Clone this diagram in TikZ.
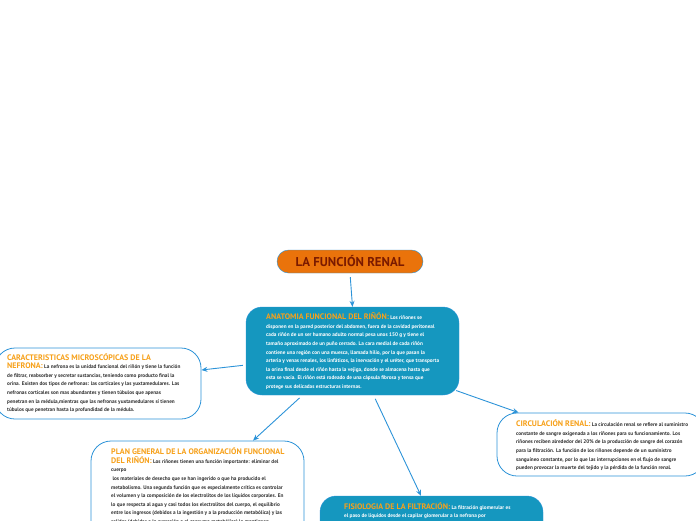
\documentclass[tikz,border=0pt]{standalone}
\usepackage{fontspec}
\setmainfont{PT Sans}
\usetikzlibrary{arrows.meta, positioning, calc}
\definecolor{mapblue}{HTML}{1597BF}
\definecolor{linkblue}{HTML}{2C93D8}
\definecolor{titleorange}{HTML}{EA730B}
\definecolor{titlered}{HTML}{7A1A00}
\definecolor{headorange}{HTML}{F7A11A}
\definecolor{bodygray}{HTML}{333333}
\newcommand{\hd}[1]{{\fontsize{8}{8.6}\selectfont\color{headorange}#1}}

\begin{document}
\begin{tikzpicture}[
  x=1pt, y=-1pt,
  titlebox/.style={draw=linkblue, fill=titleorange, rounded corners=11.5pt, minimum width=146pt, minimum height=23pt, inner sep=0pt, text=titlered, font=\fontsize{12.8}{14}\selectfont\bfseries},
  topic/.style={draw=linkblue, fill=mapblue, rounded corners=16pt, inner sep=0pt},
  subtopic/.style={draw=linkblue, fill=white, line width=0.8pt, rounded corners=20pt, inner sep=0pt},
  txt/.style={anchor=north west, inner sep=0pt, align=left, font=\fontsize{5.25}{8.6}\selectfont\bfseries},
  link/.style={draw=linkblue, line width=0.9pt, -{Stealth[length=6pt, width=5pt]}},
]
  \useasboundingbox (0,0) rectangle (696,520);

  % Boxes
  \node[titlebox] (title) at (350,261.5) {LA FUNCIÓN RENAL};
  \node[topic, minimum width=213pt, minimum height=88pt] (anatomia) at (352.5,351) {};
  \node[subtopic, minimum width=206pt, minimum height=71pt] (micro) at (98,383.5) {};
  \node[subtopic, minimum width=213pt, minimum height=120pt] (plan) at (197.5,501) {};
  \node[subtopic, minimum width=208pt, minimum height=63pt] (circ) at (601,444.5) {};
  \node[topic, minimum width=223pt, minimum height=60pt] (filtra) at (431.5,526) {};

  % Texts
  \node[txt, text=white] (anatomia-txt) at (266,312.5) {\hd{ANATOMIA FUNCIONAL DEL RIÑÓN:} Los riñones se\\
    disponen en la pared posterior del abdomen, fuera de la cavidad peritoneal\\
    cada riñón de un ser humano adulto normal pesa unos 150 g y tiene el\\
    tamaño aproximado de un puño cerrado. La cara medial de cada riñón\\
    contiene una región con una muesca, llamada hilio, por la que pasan la\\
    arteria y venas renales, los linfáticos, la inervación y el uréter, que transporta\\
    la orina final desde el riñón hasta la vejiga, donde se almacena hasta que\\
    esta se vacía. El riñón está rodeado de una cápsula fibrosa y tensa que\\
    protege sus delicadas estructuras internas.};
  \node[txt, text=bodygray] (micro-txt) at (7,353) {\hd{CARACTERISTICAS MICROSCÓPICAS DE LA}\\
    \hd{NEFRONA:} La nefrona es la unidad funcional del riñón y tiene la función\\
    de filtrar, reabsorber y secretar sustancias, teniendo como producto final la\\
    orina. Existen dos tipos de nefronas: las corticales y las yuxtamedulares. Las\\
    nefronas corticales son mas abundantes y tienen túbulos que apenas\\
    penetran en la médula,mientras que las nefronas yuxtamedulares sí tienen\\
    túbulos que penetran hasta la profundidad de la médula.};
  \node[txt, text=bodygray] (plan-txt) at (111,447.5) {\hd{PLAN GENERAL DE LA ORGANIZACIÓN FUNCIONAL}\\
    \hd{DEL RIÑÓN:} Los riñones tienen una función importante: eliminar del\\
    cuerpo\\
    \ los materiales de desecho que se han ingerido o que ha producido el\\
    metabolismo. Una segunda función que es especialmente crítica es controlar\\
    el volumen y la composición de los electrolitos de los líquidos corporales. En\\
    lo que respecta al agua y casi todos los electrolitos del cuerpo, el equilibrio\\
    entre los ingresos (debidos a la ingestión y a la producción metabólica) y las\\
    salidas (debidas a la excreción o al consumo metabólico) lo mantienen};
  \node[txt, text=bodygray] (circ-txt) at (516,419.5) {\hd{CIRCULACIÓN RENAL:} La circulación renal se refiere al suministro\\
    constante de sangre oxigenada a los riñones para su funcionamiento. Los\\
    riñones reciben alrededor del 20\% de la producción de sangre del corazón\\
    para la filtración. La función de los riñones depende de un suministro\\
    sanguíneo constante, por lo que las interrupciones en el flujo de sangre\\
    pueden provocar la muerte del tejido y la pérdida de la función renal.};
  \node[txt, text=white] (filtra-txt) at (344,502) {\hd{FISIOLOGIA DE LA FILTRACIÓN:} La filtración glomerular es\\
    el paso de líquidos desde el capilar glomerular a la nefrona por};

  % Connectors
  \draw[link, shorten <=4pt] (title.south) -- (anatomia.north);
  \draw[link, shorten <=3pt] ($(anatomia.west)+(0,14)$) -- ($(micro.east)+(0,-13.5)$);
  \draw[link, shorten <=4pt] ($(anatomia.south)+(-50,0)$) -- ($(plan.north)+(55.5,0)$);
  \draw[link, shorten <=4pt] ($(anatomia.south)+(21,0)$) -- ($(filtra.north)+(-10.5,0)$);
  \draw[link, shorten <=1pt] ($(anatomia.south east)+(-4,-5)$) -- ($(circ.north west)+(22,0)$);
\end{tikzpicture}
\end{document}
